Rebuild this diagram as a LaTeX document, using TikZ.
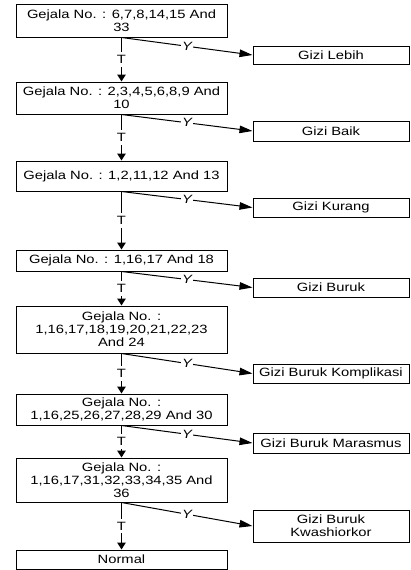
\documentclass[tikz,border=0pt]{standalone}
\usepackage{fontspec}
\setmainfont{Liberation Sans}[FakeStretch=1.23]
\usetikzlibrary{arrows.meta}
\begin{document}
\begin{tikzpicture}[x=1pt,y=-1pt,
  txt/.style={font=\fontsize{12}{13}\selectfont},
  lbox/.style={txt, draw, line width=1pt, inner sep=0pt, minimum width=211pt, align=center},
  rbox/.style={txt, draw, line width=1pt, inner sep=0pt, minimum width=156pt, align=center},
  tarr/.style={draw, line width=1.2pt, -{Triangle[length=7pt,width=8.5pt]}},
  yarr/.style={draw, line width=1pt, -{Triangle[length=13pt,width=7.5pt]}},
  tlab/.style={font=\fontsize{12}{13}\selectfont, fill=white, inner xsep=1pt, inner ysep=3pt},
  ylab/.style={font=\fontsize{12}{13}\selectfont\itshape, fill=white, inner sep=1pt}
]
\useasboundingbox (0,0) rectangle (410,570);
\fill[white] (0,0) rectangle (410,570);

\node[lbox, minimum height=33pt] (b1) at (121.5,20.5) {Gejala No. : 6,7,8,14,15 And\\33};
\node[rbox, minimum height=18pt] (r1) at (331,55) {Gizi Lebih};
\node[lbox, minimum height=32pt] (b2) at (121.5,98) {Gejala No. : 2,3,4,5,6,8,9 And\\10};
\node[rbox, minimum height=20pt] (r2) at (331,131) {Gizi Baik};
\node[lbox, minimum height=30pt] (b3) at (121.5,176) {Gejala No. : 1,2,11,12 And 13};
\node[rbox, minimum height=19pt] (r3) at (331,207.5) {Gizi Kurang};
\node[lbox, minimum height=21pt] (b4) at (121.5,260.5) {Gejala No. : 1,16,17 And 18};
\node[rbox, minimum height=19pt] (r4) at (331,287.5) {Gizi Buruk};
\node[lbox, minimum height=47pt] (b5) at (121.5,329.5) {Gejala No. :\\1,16,17,18,19,20,21,22,23\\And 24};
\node[rbox, minimum height=19pt] (r5) at (331,373.5) {Gizi Buruk Komplikasi};
\node[lbox, minimum height=31pt] (b6) at (121.5,409.5) {Gejala No. :\\1,16,25,26,27,28,29 And 30};
\node[rbox, minimum height=20pt] (r6) at (331,443) {Gizi Buruk Marasmus};
\node[lbox, minimum height=44pt] (b7) at (121.5,480) {Gejala No. :\\1,16,17,31,32,33,34,35 And\\36};
\node[rbox, minimum height=32pt] (r7) at (331,526) {Gizi Buruk\\Kwashiorkor};
\node[lbox, minimum height=19pt] (nm) at (121.5,559.5) {Normal};

\draw[tarr] (b1.south) -- node[tlab]{T} (b2.north);
\draw[tarr] (b2.south) -- node[tlab]{T} (b3.north);
\draw[tarr] (b3.south) -- node[tlab]{T} (b4.north);
\draw[tarr] (b4.south) -- node[tlab]{T} (b5.north);
\draw[tarr] (b5.south) -- node[tlab]{T} (b6.north);
\draw[tarr] (b6.south) -- node[tlab]{T} (b7.north);
\draw[tarr] (b7.south) -- node[tlab]{T} (nm.north);

\draw[yarr] (b1.south) -- node[ylab]{Y} (r1.west);
\draw[yarr] (b2.south) -- node[ylab]{Y} (r2.west);
\draw[yarr] (b3.south) -- node[ylab]{Y} (r3.west);
\draw[yarr] (b4.south) -- node[ylab]{Y} (r4.west);
\draw[yarr] (b5.south) -- node[ylab]{Y} (r5.west);
\draw[yarr] (b6.south) -- node[ylab]{Y} (r6.west);
\draw[yarr] (b7.south) -- node[ylab]{Y} (r7.west);
\end{tikzpicture}
\end{document}
